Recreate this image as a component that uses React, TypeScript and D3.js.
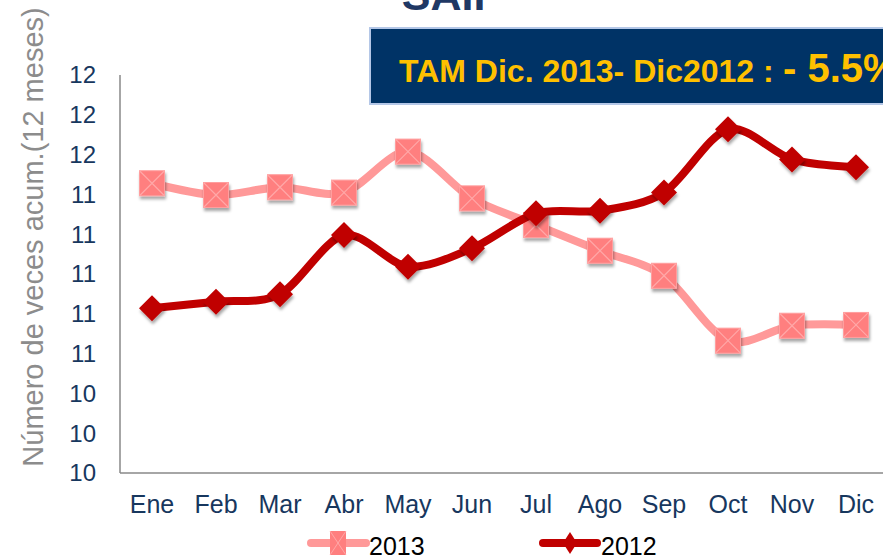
import React from "react";
import * as d3 from "d3";

// Meses y valores (número de veces acumulado, 12 meses)
const months = ["Ene", "Feb", "Mar", "Abr", "May", "Jun", "Jul", "Ago", "Sep", "Oct", "Nov", "Dic"];
const values2013 = [11.456, 11.397, 11.436, 11.409, 11.615, 11.38, 11.246, 11.117, 10.991, 10.665, 10.74, 10.744];
const values2012 = [10.828, 10.861, 10.898, 11.196, 11.037, 11.129, 11.305, 11.318, 11.409, 11.727, 11.576, 11.536];
const yTicks = [10, 10.2, 10.4, 10.6, 10.8, 11, 11.2, 11.4, 11.6, 11.8, 12];
const seriesNames = ["2013", "2012"];

const W = 883;
const H = 555;
const FONT = "'Liberation Sans', Arial, sans-serif";
const BLUE = "#17375E";
const PINK_LINE = "#FF9999";
const PINK_MARK = "#FF7F7F";
const DARK = "#C00000";

export default function App() {
  const x = d3.scaleBand<string>().domain(months).range([120, 888]).padding(0);
  const y = d3.scaleLinear().domain([10, 12]).range([473, 75]);
  const cx = (m: string) => (x(m) as number) + x.bandwidth() / 2;

  const line = d3
    .line<number>()
    .x((_, i) => cx(months[i]))
    .y((d) => y(d))
    .curve(d3.curveCardinal.tension(0.1));

  const fmt = d3.format(".0f");

  return (
    <svg
      width={W}
      height={H}
      style={{ position: "absolute", left: 0, top: 0, background: "#fff" }}
      fontFamily={FONT}
    >
      <defs>
        <filter id="shadow" x="-50%" y="-50%" width="200%" height="200%">
          <feDropShadow dx="1" dy="3" stdDeviation="1.5" floodColor="#000" floodOpacity="0.35" />
        </filter>
      </defs>

      {/* Title (cut at top) */}
      <text x={452} y={10} textAnchor="middle" fontSize={43} fontWeight="bold" fill="#1F3864">
        SAIP
      </text>

      {/* Y axis title */}
      <text
        transform="translate(43,237) rotate(-90)"
        textAnchor="middle"
        fontSize={29}
        fill="#8C8C8C"
      >
        Número de veces acum.(12 meses)
      </text>

      {/* Y tick labels */}
      {yTicks.map((t) => (
        <text key={t} x={96} y={y(t)} dy="0.35em" textAnchor="end" fontSize={24} fill={BLUE}>
          {fmt(t)}
        </text>
      ))}

      {/* X labels */}
      {months.map((m) => (
        <text key={m} x={cx(m)} y={513} textAnchor="middle" fontSize={25} fill={BLUE}>
          {m}
        </text>
      ))}

      {/* Axes */}
      <line x1={120} x2={120} y1={75} y2={473} stroke="#888" strokeWidth={1.5} />
      <line x1={120} x2={W} y1={473} y2={473} stroke="#888" strokeWidth={1.5} />

      {/* 2013 series */}
      <path d={line(values2013) as string} fill="none" stroke={PINK_LINE} strokeWidth={8} strokeLinejoin="round" />
      {values2013.map((v, i) => {
        const px = cx(months[i]);
        const py = y(v);
        const s = 12.5;
        return (
          <g key={"p" + i} filter="url(#shadow)">
            <rect x={px - s} y={py - s} width={2 * s} height={2 * s} fill={PINK_MARK} stroke="#FF9E9E" strokeWidth={1} />
            <path
              d={`M${px - s},${py - s}L${px + s},${py + s}M${px + s},${py - s}L${px - s},${py + s}`}
              stroke="#FFA8A8"
              strokeWidth={1.2}
            />
          </g>
        );
      })}

      {/* 2012 series */}
      <path d={line(values2012) as string} fill="none" stroke={DARK} strokeWidth={8} strokeLinejoin="round" />
      {values2012.map((v, i) => {
        const px = cx(months[i]);
        const py = y(v);
        const s = 13;
        return (
          <path
            key={"d" + i}
            d={`M${px},${py - s}L${px + s},${py}L${px},${py + s}L${px - s},${py}Z`}
            fill={DARK}
            filter="url(#shadow)"
          />
        );
      })}

      {/* TAM box */}
      <rect x={370} y={28} width={530} height={76} fill="#003366" stroke="#B4C7E7" strokeWidth={2} />
      <text x={399} y={82} fontSize={32} fontWeight="bold" fill="#FFC000">
        TAM Dic. 2013- Dic2012 :
        <tspan x={783} fontSize={40}>- 5.5%</tspan>
      </text>

      {/* Legend */}
      <g>
        <line x1={311} x2={366} y1={543} y2={543} stroke={PINK_LINE} strokeWidth={8} strokeLinecap="round" />
        <rect x={330} y={531} width={16} height={24} fill={PINK_MARK} />
        <path d="M330,531L346,555M346,531L330,555" stroke="#FFA8A8" strokeWidth={1} />
        <text x={369} y={555} fontSize={25} fill="#000">
          {seriesNames[0]}
        </text>
        <line x1={543} x2={597} y1={543} y2={543} stroke={DARK} strokeWidth={8} strokeLinecap="round" />
        <path d="M570,532L577,543L570,554L563,543Z" fill={DARK} />
        <text x={601} y={555} fontSize={25} fill="#000">
          {seriesNames[1]}
        </text>
      </g>
    </svg>
  );
}
